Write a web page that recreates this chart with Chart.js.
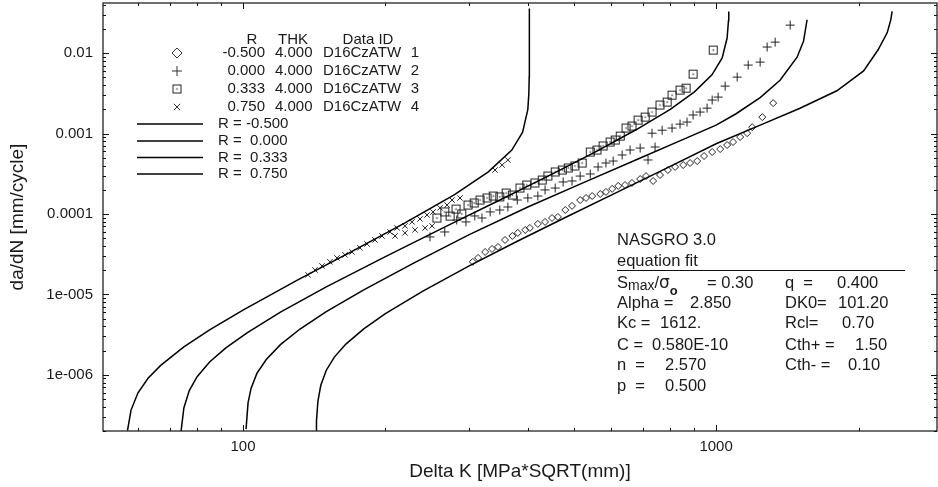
<!DOCTYPE html>
<html>
<head>
<meta charset="utf-8">
<script src="https://cdn.jsdelivr.net/npm/chart.js@4.4.1/dist/chart.umd.min.js"></script>
<style>
  html, body { margin: 0; padding: 0; background: #fff; }
  #wrap { position: relative; width: 938px; height: 487px; }
</style>
</head>
<body>
<div id="wrap"><canvas id="chart_1" width="938" height="487"></canvas></div>
<script>
// axis ticks
const xTickValues = [100, 1000];
const xTickLabels = ['100', '1000'];
const yTickValues = [1e-6, 1e-5, 1e-4, 1e-3, 1e-2];
const yTickLabels = ['1e-006', '1e-005', '0.0001', '0.001', '0.01'];

// NASGRO fit curves (Delta K, da/dN)
const fitR075DK = [57, 58, 60, 63, 67, 75, 85, 100, 130, 170, 220, 280, 330, 370, 390, 400, 402, 402.7, 403];
const fitR075Rate = [2.02e-7, 3.64e-7, 5.97e-7, 9.04e-7, 1.31e-6, 2.22e-6, 3.61e-6, 6.37e-6, 1.49e-5, 3.42e-5, 7.73e-5, 1.74e-4, 3.34e-4, 6.22e-4, 1.04e-3, 2.0e-3, 3.14e-3, 5.1e-3, 0.036];

const fitR0333DK = [74, 75, 77, 80, 85, 92, 102, 120, 150, 200, 270, 350, 450, 560, 680, 800, 900, 980, 1030, 1055, 1062, 1063.5];
const fitR0333Rate = [2.01e-7, 3.87e-7, 6.37e-7, 9.48e-7, 1.44e-6, 2.16e-6, 3.32e-6, 6.01e-6, 1.24e-5, 2.95e-5, 7.10e-5, 1.50e-4, 3.13e-4, 6.05e-4, 1.13e-3, 2.0e-3, 3.30e-3, 5.37e-3, 8.7e-3, 1.54e-2, 2.52e-2, 0.033];

const fitR0DK = [101.5, 102.5, 104, 107, 112, 120, 132, 150, 180, 230, 300, 400, 520, 680, 850, 1000, 1100, 1239, 1365, 1483, 1530, 1557];
const fitR0Rate = [2.11e-7, 4.48e-7, 6.77e-7, 1.04e-6, 1.55e-6, 2.37e-6, 3.71e-6, 6.11e-6, 1.14e-5, 2.46e-5, 5.5e-5, 1.22e-4, 2.40e-4, 4.75e-4, 8.4e-4, 1.27e-3, 1.75e-3, 2.8e-3, 4.6e-3, 8.9e-3, 1.4e-2, 0.026];

const fitRm05DK = [142.8, 143, 144, 146, 150, 156, 165, 180, 200, 240, 300, 380, 480, 620, 800, 1000, 1250, 1500, 1800, 2050, 2200, 2300, 2340, 2355];
const fitRm05Rate = [2.05e-7, 2.66e-7, 4.68e-7, 7.36e-7, 1.14e-6, 1.66e-6, 2.41e-6, 3.73e-6, 5.77e-6, 1.10e-5, 2.25e-5, 4.58e-5, 9.04e-5, 1.88e-4, 3.91e-4, 7.47e-4, 1.3e-3, 2.05e-3, 3.4e-3, 6.0e-3, 1.1e-2, 1.8e-2, 2.6e-2, 0.033];

// test data, D16CzATW
const testRm05DK = [306, 314, 325, 336, 346, 358, 371, 381, 395, 404, 420, 435, 450, 463, 480, 496, 516, 531, 547, 569, 585, 603, 621, 642, 664, 691, 711, 736, 761, 791, 819, 852, 881, 912, 943, 981, 1020, 1055, 1086, 1124, 1163, 1192, 1252, 1320];
const testRm05Rate = [2.54e-5, 2.84e-5, 3.37e-5, 3.67e-5, 3.89e-5, 4.75e-5, 5.33e-5, 5.81e-5, 6.33e-5, 6.7e-5, 7.52e-5, 7.96e-5, 8.91e-5, 9.18e-5, 1.12e-4, 1.26e-4, 1.49e-4, 1.58e-4, 1.67e-4, 1.77e-4, 1.88e-4, 2.05e-4, 2.23e-4, 2.29e-4, 2.43e-4, 2.72e-4, 2.96e-4, 2.57e-4, 3.05e-4, 3.52e-4, 3.84e-4, 4.06e-4, 4.3e-4, 4.55e-4, 5.25e-4, 5.89e-4, 6.41e-4, 7.2e-4, 7.84e-4, 9.06e-4, 1.01e-3, 1.2e-3, 1.6e-3, 2.39e-3];

const testR0DK = [248.5, 267, 283, 296, 309, 320, 333, 349, 363, 380, 400, 420, 435, 457, 475, 496, 516, 542, 563, 585, 606, 633, 658, 691, 718, 743, 732, 769, 807, 839, 868, 894, 925, 957, 981, 1010, 1045, 1108, 1169, 1239, 1282, 1333, 1434];
const testR0Rate = [5.18e-5, 5.97e-5, 8.41e-5, 7.96e-5, 9.44e-5, 8.91e-5, 1.06e-4, 1.12e-4, 1.22e-4, 1.49e-4, 1.58e-4, 1.67e-4, 1.99e-4, 2.1e-4, 2.5e-4, 2.57e-4, 2.96e-4, 3.14e-4, 3.84e-4, 4.3e-4, 4.55e-4, 5.41e-4, 6.24e-4, 6.6e-4, 4.69e-4, 6.8e-4, 1.01e-3, 1.1e-3, 1.17e-3, 1.31e-3, 1.39e-3, 1.7e-3, 1.85e-3, 2.07e-3, 2.61e-3, 2.84e-3, 3.89e-3, 5.03e-3, 7.1e-3, 7.73e-3, 1.19e-2, 1.37e-2, 2.23e-2];

const testR0333DK = [257, 267, 274, 282, 290, 299, 308, 317, 328, 338, 349, 360, 371, 385, 398, 414, 429, 441, 457, 473, 487, 503, 521, 542, 560, 577, 597, 612, 627, 645, 664, 684, 708, 732, 761, 788, 807, 839, 864, 894, 986];
const testR0333Rate = [8.9e-5, 1.06e-4, 9.4e-5, 1.15e-4, 1.0e-4, 1.29e-4, 1.37e-4, 1.49e-4, 1.58e-4, 1.67e-4, 1.63e-4, 1.82e-4, 1.72e-4, 2.1e-4, 2.29e-4, 2.43e-4, 2.64e-4, 2.96e-4, 3.33e-4, 3.52e-4, 3.73e-4, 3.95e-4, 4.3e-4, 5.89e-4, 6.24e-4, 7.0e-4, 7.84e-4, 8.3e-4, 9.3e-4, 1.17e-3, 1.24e-3, 1.47e-3, 1.6e-3, 1.85e-3, 2.26e-3, 2.46e-3, 3.0e-3, 3.47e-3, 3.67e-3, 5.48e-3, 1.09e-2];

const testR075DK = [137.2, 142, 146.9, 152.7, 158, 164.3, 170, 176.7, 182.9, 190.1, 196.7, 204.6, 211.7, 220, 227.7, 236.7, 244.9, 252.2, 260.9, 270, 209.6, 220, 231, 242.6, 251, 276.6, 287.6, 341, 353, 363];
const testR075Rate = [1.75e-5, 2.01e-5, 2.26e-5, 2.54e-5, 2.84e-5, 3.1e-5, 3.37e-5, 3.79e-5, 4.24e-5, 4.75e-5, 5.33e-5, 5.97e-5, 6.7e-5, 7.1e-5, 7.96e-5, 8.67e-5, 9.72e-5, 1.06e-4, 1.19e-4, 1.29e-4, 5.33e-5, 5.81e-5, 6.33e-5, 6.7e-5, 7.1e-5, 1.49e-4, 1.58e-4, 3.52e-4, 4.06e-4, 4.69e-4];

const legendRows = [
  ['-0.500', '4.000', 'D16CzATW', '1'],
  ['0.000', '4.000', 'D16CzATW', '2'],
  ['0.333', '4.000', 'D16CzATW', '3'],
  ['0.750', '4.000', 'D16CzATW', '4']
];
const fitLabels = ['R = -0.500', 'R =  0.000', 'R =  0.333', 'R =  0.750'];

const FONT = '"Liberation Sans", Arial, sans-serif';
const INK = '#1a1a1a';

function pairs(xs, ys) {
  return xs.map((v, i) => ({x: v, y: ys[i]}));
}

// square-with-dot marker
function makeSquare(size) {
  const c = document.createElement('canvas');
  c.width = size; c.height = size;
  const g = c.getContext('2d');
  g.strokeStyle = '#222';
  g.lineWidth = 1;
  g.strokeRect(1.5, 1.5, size - 3, size - 3);
  g.fillStyle = '#222';
  g.fillRect(size / 2 - 0.7, size / 2 - 0.7, 1.4, 1.4);
  return c;
}
const squareMark = makeSquare(11);

function fitSet(xs, ys) {
  return {
    data: pairs(xs, ys), showLine: true, pointRadius: 0,
    borderColor: '#000', borderWidth: 1.5, tension: 0, fill: false
  };
}
function testSet(xs, ys, style, r, bw) {
  return {
    data: pairs(xs, ys), showLine: false, pointStyle: style, pointRadius: r,
    borderColor: '#222', backgroundColor: 'rgba(0,0,0,0)', pointBorderWidth: bw || 1
  };
}

function drawMark(ctx, style, r, x, y) {
  if (style === 'square') {
    ctx.drawImage(squareMark, x - 5.5, y - 5.5);
    return;
  }
  ctx.save();
  ctx.strokeStyle = '#333';
  ctx.fillStyle = 'rgba(0,0,0,0)';
  ctx.lineWidth = 1;
  Chart.helpers.drawPoint(ctx, {pointStyle: style, radius: r, rotation: 0, borderWidth: 1}, x, y);
  ctx.restore();
}

// frame with inward ticks on all four sides
const frameTicks = {
  id: 'frameTicks',
  afterDatasetsDraw(chart) {
    const {ctx, chartArea: a, scales: {x, y}} = chart;
    ctx.save();
    ctx.strokeStyle = '#111';
    ctx.lineWidth = 1.2;
    ctx.strokeRect(a.left, a.top, a.right - a.left, a.bottom - a.top);
    ctx.lineWidth = 1;
    ctx.beginPath();
    for (let e = 1; e <= 3; e++) {
      for (let m = 1; m <= 9; m++) {
        const v = m * Math.pow(10, e);
        if (v < x.min || v > x.max) continue;
        const px = Math.round(x.getPixelForValue(v)) + 0.5;
        const len = m === 1 ? 6 : 3;
        ctx.moveTo(px, a.bottom); ctx.lineTo(px, a.bottom - len);
        ctx.moveTo(px, a.top); ctx.lineTo(px, a.top + len);
      }
    }
    for (let e = -7; e <= -2; e++) {
      for (let m = 1; m <= 9; m++) {
        const v = m * Math.pow(10, e);
        if (v < y.min || v > y.max) continue;
        const py = Math.round(y.getPixelForValue(v)) + 0.5;
        const len = m === 1 ? 6 : 3;
        ctx.moveTo(a.left, py); ctx.lineTo(a.left + len, py);
        ctx.moveTo(a.right, py); ctx.lineTo(a.right - len, py);
      }
    }
    ctx.stroke();
    ctx.restore();
  }
};

// data legend and the NASGRO parameter block
const notes = {
  id: 'notes',
  afterDraw(chart) {
    const ctx = chart.ctx;
    ctx.save();
    ctx.fillStyle = INK;
    ctx.textBaseline = 'middle';
    ctx.font = '15px ' + FONT;

    ctx.textAlign = 'center';
    ctx.fillText('R', 252, 40);
    ctx.fillText('THK', 293, 40);
    ctx.fillText('Data ID', 368, 40);

    const marks = [['rectRot', 5], ['cross', 5], ['square', 5], ['crossRot', 4.5]];
    const rowY = [53, 71, 89, 107];
    legendRows.forEach((row, i) => {
      drawMark(ctx, marks[i][0], marks[i][1], 177, rowY[i]);
      ctx.fillStyle = INK;
      ctx.textAlign = 'right';
      ctx.fillText(row[0], 265, rowY[i]);
      ctx.textAlign = 'left';
      ctx.fillText(row[1], 275, rowY[i]);
      ctx.fillText(row[2], 323, rowY[i]);
      ctx.textAlign = 'center';
      ctx.fillText(row[3], 415, rowY[i]);
    });

    const lineY = [124, 141, 157.5, 174];
    ctx.textAlign = 'left';
    fitLabels.forEach((t, i) => {
      ctx.strokeStyle = '#000';
      ctx.lineWidth = 1.5;
      ctx.beginPath();
      ctx.moveTo(137, lineY[i]); ctx.lineTo(203, lineY[i]);
      ctx.stroke();
      ctx.fillText(t, 218, lineY[i]);
    });

    // parameter block
    ctx.font = '16.5px ' + FONT;
    ctx.fillText('NASGRO 3.0', 617, 240);
    ctx.fillText('equation fit', 617, 261);
    ctx.strokeStyle = '#111';
    ctx.lineWidth = 1.2;
    ctx.beginPath();
    ctx.moveTo(617, 270.5); ctx.lineTo(905, 270.5);
    ctx.stroke();

    let px = 617;
    ctx.fillText('S', px, 283); px += ctx.measureText('S').width;
    ctx.font = '14px ' + FONT;
    ctx.fillText('max', px, 286); px += ctx.measureText('max').width;
    ctx.font = '16.5px ' + FONT;
    ctx.fillText('/', px, 283); px += ctx.measureText('/').width;
    ctx.font = '17px "DejaVu Sans", sans-serif';
    ctx.fillText('\u03c3', px, 284); px += ctx.measureText('\u03c3').width;
    ctx.font = 'bold 13px ' + FONT;
    ctx.fillText('o', px, 291);

    ctx.font = '16.5px ' + FONT;
    const leftCol = [
      ['= 0.30', 707, 283],
      ['Alpha =', 617, 303], ['2.850', 690, 303],
      ['Kc =', 617, 323], ['1612.', 660, 323],
      ['C =', 617, 345], ['0.580E-10', 652, 345],
      ['n  =', 617, 365], ['2.570', 665, 365],
      ['p  =', 617, 386], ['0.500', 665, 386]
    ];
    const rightCol = [
      ['q  =', 785, 283], ['0.400', 837, 283],
      ['DK0=', 785, 303], ['101.20', 838, 303],
      ['Rcl=', 785, 323], ['0.70', 842, 323],
      ['Cth+ =', 785, 345], ['1.50', 855, 345],
      ['Cth- =', 785, 365], ['0.10', 848, 365]
    ];
    leftCol.concat(rightCol).forEach(([t, tx, ty]) => ctx.fillText(t, tx, ty));
    ctx.restore();
  }
};

const datasets = [
  fitSet(fitRm05DK, fitRm05Rate),
  fitSet(fitR0DK, fitR0Rate),
  fitSet(fitR0333DK, fitR0333Rate),
  fitSet(fitR075DK, fitR075Rate),
  testSet(testRm05DK, testRm05Rate, 'rectRot', 3.5),
  testSet(testR0DK, testR0Rate, 'cross', 4.5),
  testSet(testR0333DK, testR0333Rate, squareMark, 5.5),
  testSet(testR075DK, testR075Rate, 'crossRot', 3.8)
];

const elem = document.getElementById('chart_1');
new Chart(elem.getContext('2d'), {
  type: 'scatter',
  data: {datasets: datasets},
  plugins: [frameTicks, notes],
  options: {
    responsive: false,
    animation: false,
    devicePixelRatio: 1,
    layout: {autoPadding: false, padding: {top: 3, right: 1, left: 0, bottom: 0}},
    plugins: {legend: {display: false}, tooltip: {enabled: false}},
    scales: {
      x: {
        type: 'logarithmic', min: 50.6, max: 2930,
        grid: {display: false, drawTicks: false},
        border: {display: false},
        afterBuildTicks: s => { s.ticks = xTickValues.map(v => ({value: v})); },
        afterFit: s => { s.height = 56; s.paddingLeft = 0; s.paddingRight = 0; },
        ticks: {
          autoSkip: false, maxRotation: 0, padding: 7, color: INK,
          font: {family: FONT, size: 15},
          callback: (v, i) => xTickLabels[i]
        },
        title: {
          display: true, text: 'Delta K [MPa*SQRT(mm)]', color: INK,
          font: {family: FONT, size: 19}, padding: {top: 0, bottom: 4}
        }
      },
      y: {
        type: 'logarithmic', min: 2.0e-7, max: 0.042,
        grid: {display: false, drawTicks: false},
        border: {display: false},
        afterBuildTicks: s => { s.ticks = yTickValues.map(v => ({value: v})); },
        afterFit: s => { s.width = 103; s.paddingTop = 0; s.paddingBottom = 0; },
        ticks: {
          autoSkip: false, padding: 10, color: INK,
          font: {family: FONT, size: 15},
          callback: (v, i) => yTickLabels[i]
        },
        title: {
          display: true, text: 'da/dN [mm/cycle]', color: INK,
          font: {family: FONT, size: 19}, padding: {top: 6, bottom: 0}
        }
      }
    }
  }
});
</script>
</body>
</html>
